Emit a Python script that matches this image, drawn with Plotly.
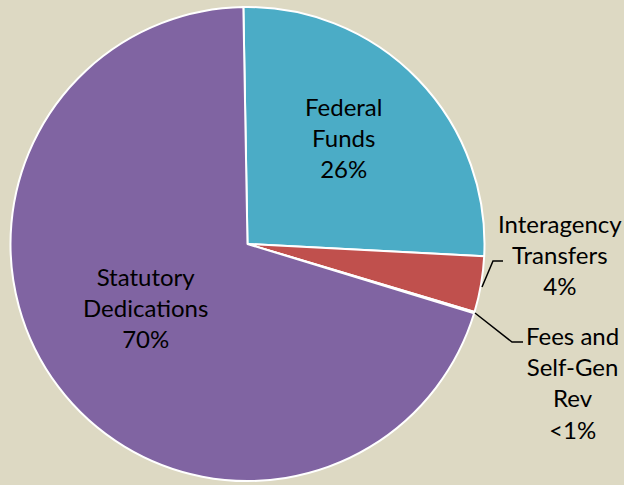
import plotly.graph_objects as go

# Data
categories = ["Federal Funds", "Interagency Transfers", "Fees and Self-Gen Rev", "Statutory Dedications"]
values = [26.1, 3.8, 0.1, 70.0]
label_texts = ["Federal<br>Funds<br>26%", "Interagency<br>Transfers<br>4%",
               "Fees and<br>Self-Gen<br>Rev<br><1%", "Statutory<br>Dedications<br>70%"]
colors = ["#4BACC6", "#C0504D", "#9BBB59", "#8064A2"]

W, H = 624, 485
BG = "#DDD9C3"

def px(x):
    return x / W

def py(y):
    return 1 - y / H

fig = go.Figure()
fig.add_trace(go.Pie(
    labels=categories,
    values=values,
    sort=False,
    direction="clockwise",
    rotation=-1,
    marker=dict(colors=colors, line=dict(color="white", width=2)),
    textinfo="none",
    hoverinfo="label+percent",
    showlegend=False,
    domain=dict(x=[px(10.5), px(484.5)], y=[py(481), py(7)]),
))

font = dict(family="Lato, Calibri, sans-serif", size=24, color="#000000")
label_pos = [(343, 137), (560, 254), (572, 382), (145, 307)]
for (x, y), t in zip(label_pos, label_texts):
    fig.add_annotation(x=px(x), y=py(y), xref="paper", yref="paper", text=t,
                       showarrow=False, font=font, align="center",
                       xanchor="center", yanchor="middle")

# leader lines
leaders = [
    [(482, 287), (493, 261), (503, 261)],
    [(475, 313), (512, 342), (523, 342)],
]
for pts in leaders:
    path = "M " + " L ".join(f"{px(x)} {py(y)}" for x, y in pts)
    fig.add_shape(type="path", path=path, xref="paper", yref="paper",
                  line=dict(color="black", width=1.5))

fig.update_layout(
    width=W, height=H,
    margin=dict(l=0, r=0, t=0, b=0),
    paper_bgcolor=BG, plot_bgcolor=BG,
)

fig.write_html("out.html")
